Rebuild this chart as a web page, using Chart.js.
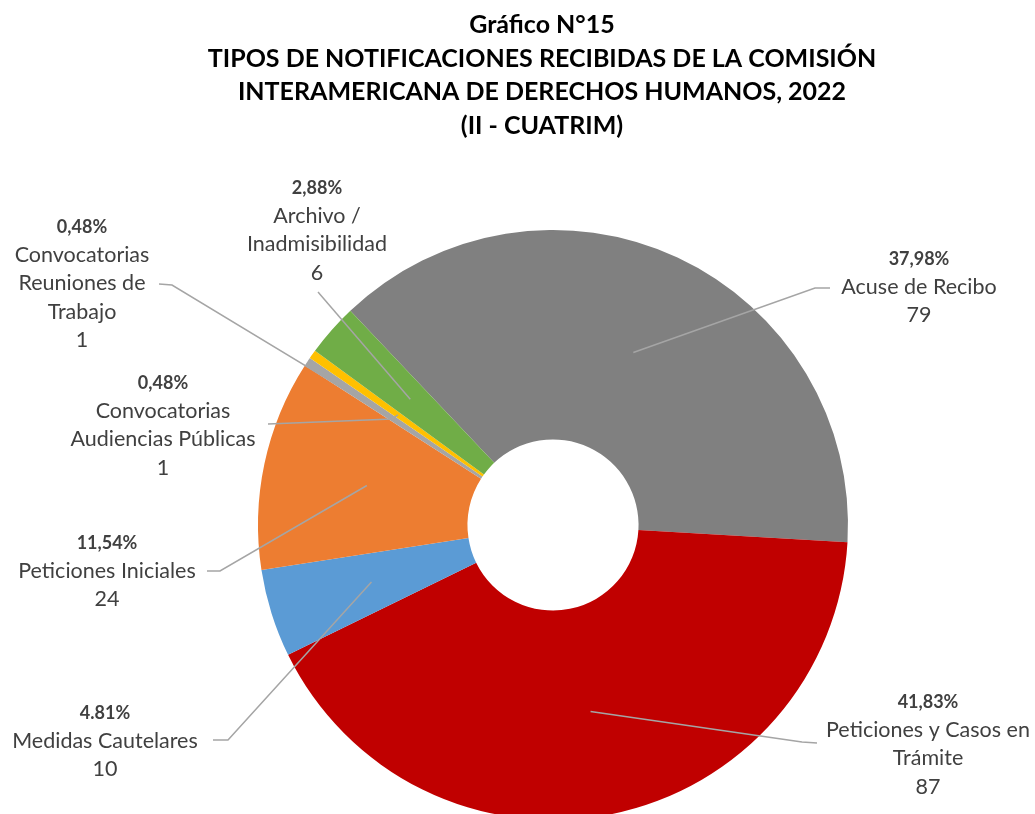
<!DOCTYPE html>
<html lang="es">
<head>
<meta charset="utf-8">
<script src="https://cdn.jsdelivr.net/npm/chart.js@4.4.1/dist/chart.umd.min.js"></script>
<style>
    html, body { margin: 0; padding: 0; background: #fff; overflow: hidden; }
    #wrap { width: 1035px; height: 830px; position: relative; }
</style>
</head>
<body>
<div id="wrap"><canvas id="donut"></canvas></div>
<script>
// Data
const titleLines = [
    'Gráfico N°15',
    'TIPOS DE NOTIFICACIONES RECIBIDAS DE LA COMISIÓN',
    'INTERAMERICANA DE DERECHOS HUMANOS, 2022',
    '(II - CUATRIM)'
];
const categories = [
    'Acuse de Recibo',
    'Peticiones y Casos en Trámite',
    'Medidas Cautelares',
    'Peticiones Iniciales',
    'Convocatorias Reuniones de Trabajo',
    'Convocatorias Audiencias Públicas',
    'Archivo / Inadmisibilidad'
];
const counts = [79, 87, 10, 24, 1, 1, 6];
const pctLabels = ['37,98%', '41,83%', '4.81%', '11,54%', '0,48%', '0,48%', '2,88%'];
const colors = ['#808080', '#C00000', '#5B9BD5', '#ED7D31', '#A5A5A5', '#FFC000', '#70AD47'];

// How each category name is wrapped in its label
const labelLines = [
    ['Acuse de Recibo'],
    ['Peticiones y Casos en', 'Trámite'],
    ['Medidas Cautelares'],
    ['Peticiones Iniciales'],
    ['Convocatorias', 'Reuniones de', 'Trabajo'],
    ['Convocatorias', 'Audiencias Públicas'],
    ['Archivo /', 'Inadmisibilidad']
];

// Label placement: text center x, y of the first (percent) line, and leader points from label side
const labelPlace = [
    { x: 919, y: 259, leader: [[830, 288], [815, 288]] },
    { x: 928, y: 702, leader: [[817, 743], [802, 742]] },
    { x: 105, y: 713, leader: [[213, 740], [228, 740]] },
    { x: 107, y: 543, leader: [[207, 571], [220, 571]] },
    { x: 82,  y: 227, leader: [[159, 284], [172, 285]] },
    { x: 163, y: 383, leader: [[268, 424], [392, 419]] },
    { x: 317, y: 188, leader: [[318, 292]] }
];

const LINE_H = 28.5;
const TEXT = '#404040';

const labelPlugin = {
    id: 'excelLabels',
    afterDatasetsDraw(chart) {
        const ctx = chart.ctx;
        const arcs = chart.getDatasetMeta(0).data;
        ctx.save();

        // leader lines
        ctx.strokeStyle = '#A5A5A5';
        ctx.lineWidth = 1.5;
        arcs.forEach((arc, i) => {
            const p = arc.getCenterPoint();
            const pts = labelPlace[i].leader;
            ctx.beginPath();
            ctx.moveTo(pts[0][0], pts[0][1]);
            for (let k = 1; k < pts.length; k++) ctx.lineTo(pts[k][0], pts[k][1]);
            ctx.lineTo(p.x, p.y);
            ctx.stroke();
        });

        // label text
        ctx.textAlign = 'center';
        ctx.textBaseline = 'middle';
        ctx.fillStyle = TEXT;
        categories.forEach((c, i) => {
            const pl = labelPlace[i];
            ctx.font = 'bold 18px Lato, "Open Sans", sans-serif';
            ctx.fillText(pctLabels[i], pl.x, pl.y);
            ctx.font = '21.5px Lato, "Open Sans", sans-serif';
            const lines = labelLines[i].concat([String(counts[i])]);
            lines.forEach((ln, k) => {
                ctx.fillText(ln, pl.x, pl.y + 28 + k * LINE_H);
            });
        });

        // title
        ctx.fillStyle = '#000';
        ctx.font = 'bold 25px Lato, "Open Sans", sans-serif';
        titleLines.forEach((t, k) => {
            ctx.fillText(t, 542, 25 + k * 33.5);
        });
        ctx.restore();
    }
};

new Chart(document.getElementById('donut'), {
    type: 'doughnut',
    data: {
        labels: categories,
        datasets: [{
            data: counts,
            backgroundColor: colors,
            borderWidth: 0
        }]
    },
    options: {
        responsive: true,
        maintainAspectRatio: false,
        animation: false,
        rotation: -43.4,
        cutout: '29%',
        layout: { padding: { left: 258, right: 187, top: 230, bottom: 10 } },
        plugins: {
            legend: { display: false },
            tooltip: { enabled: false }
        }
    },
    plugins: [labelPlugin]
});
</script>
</body>
</html>
